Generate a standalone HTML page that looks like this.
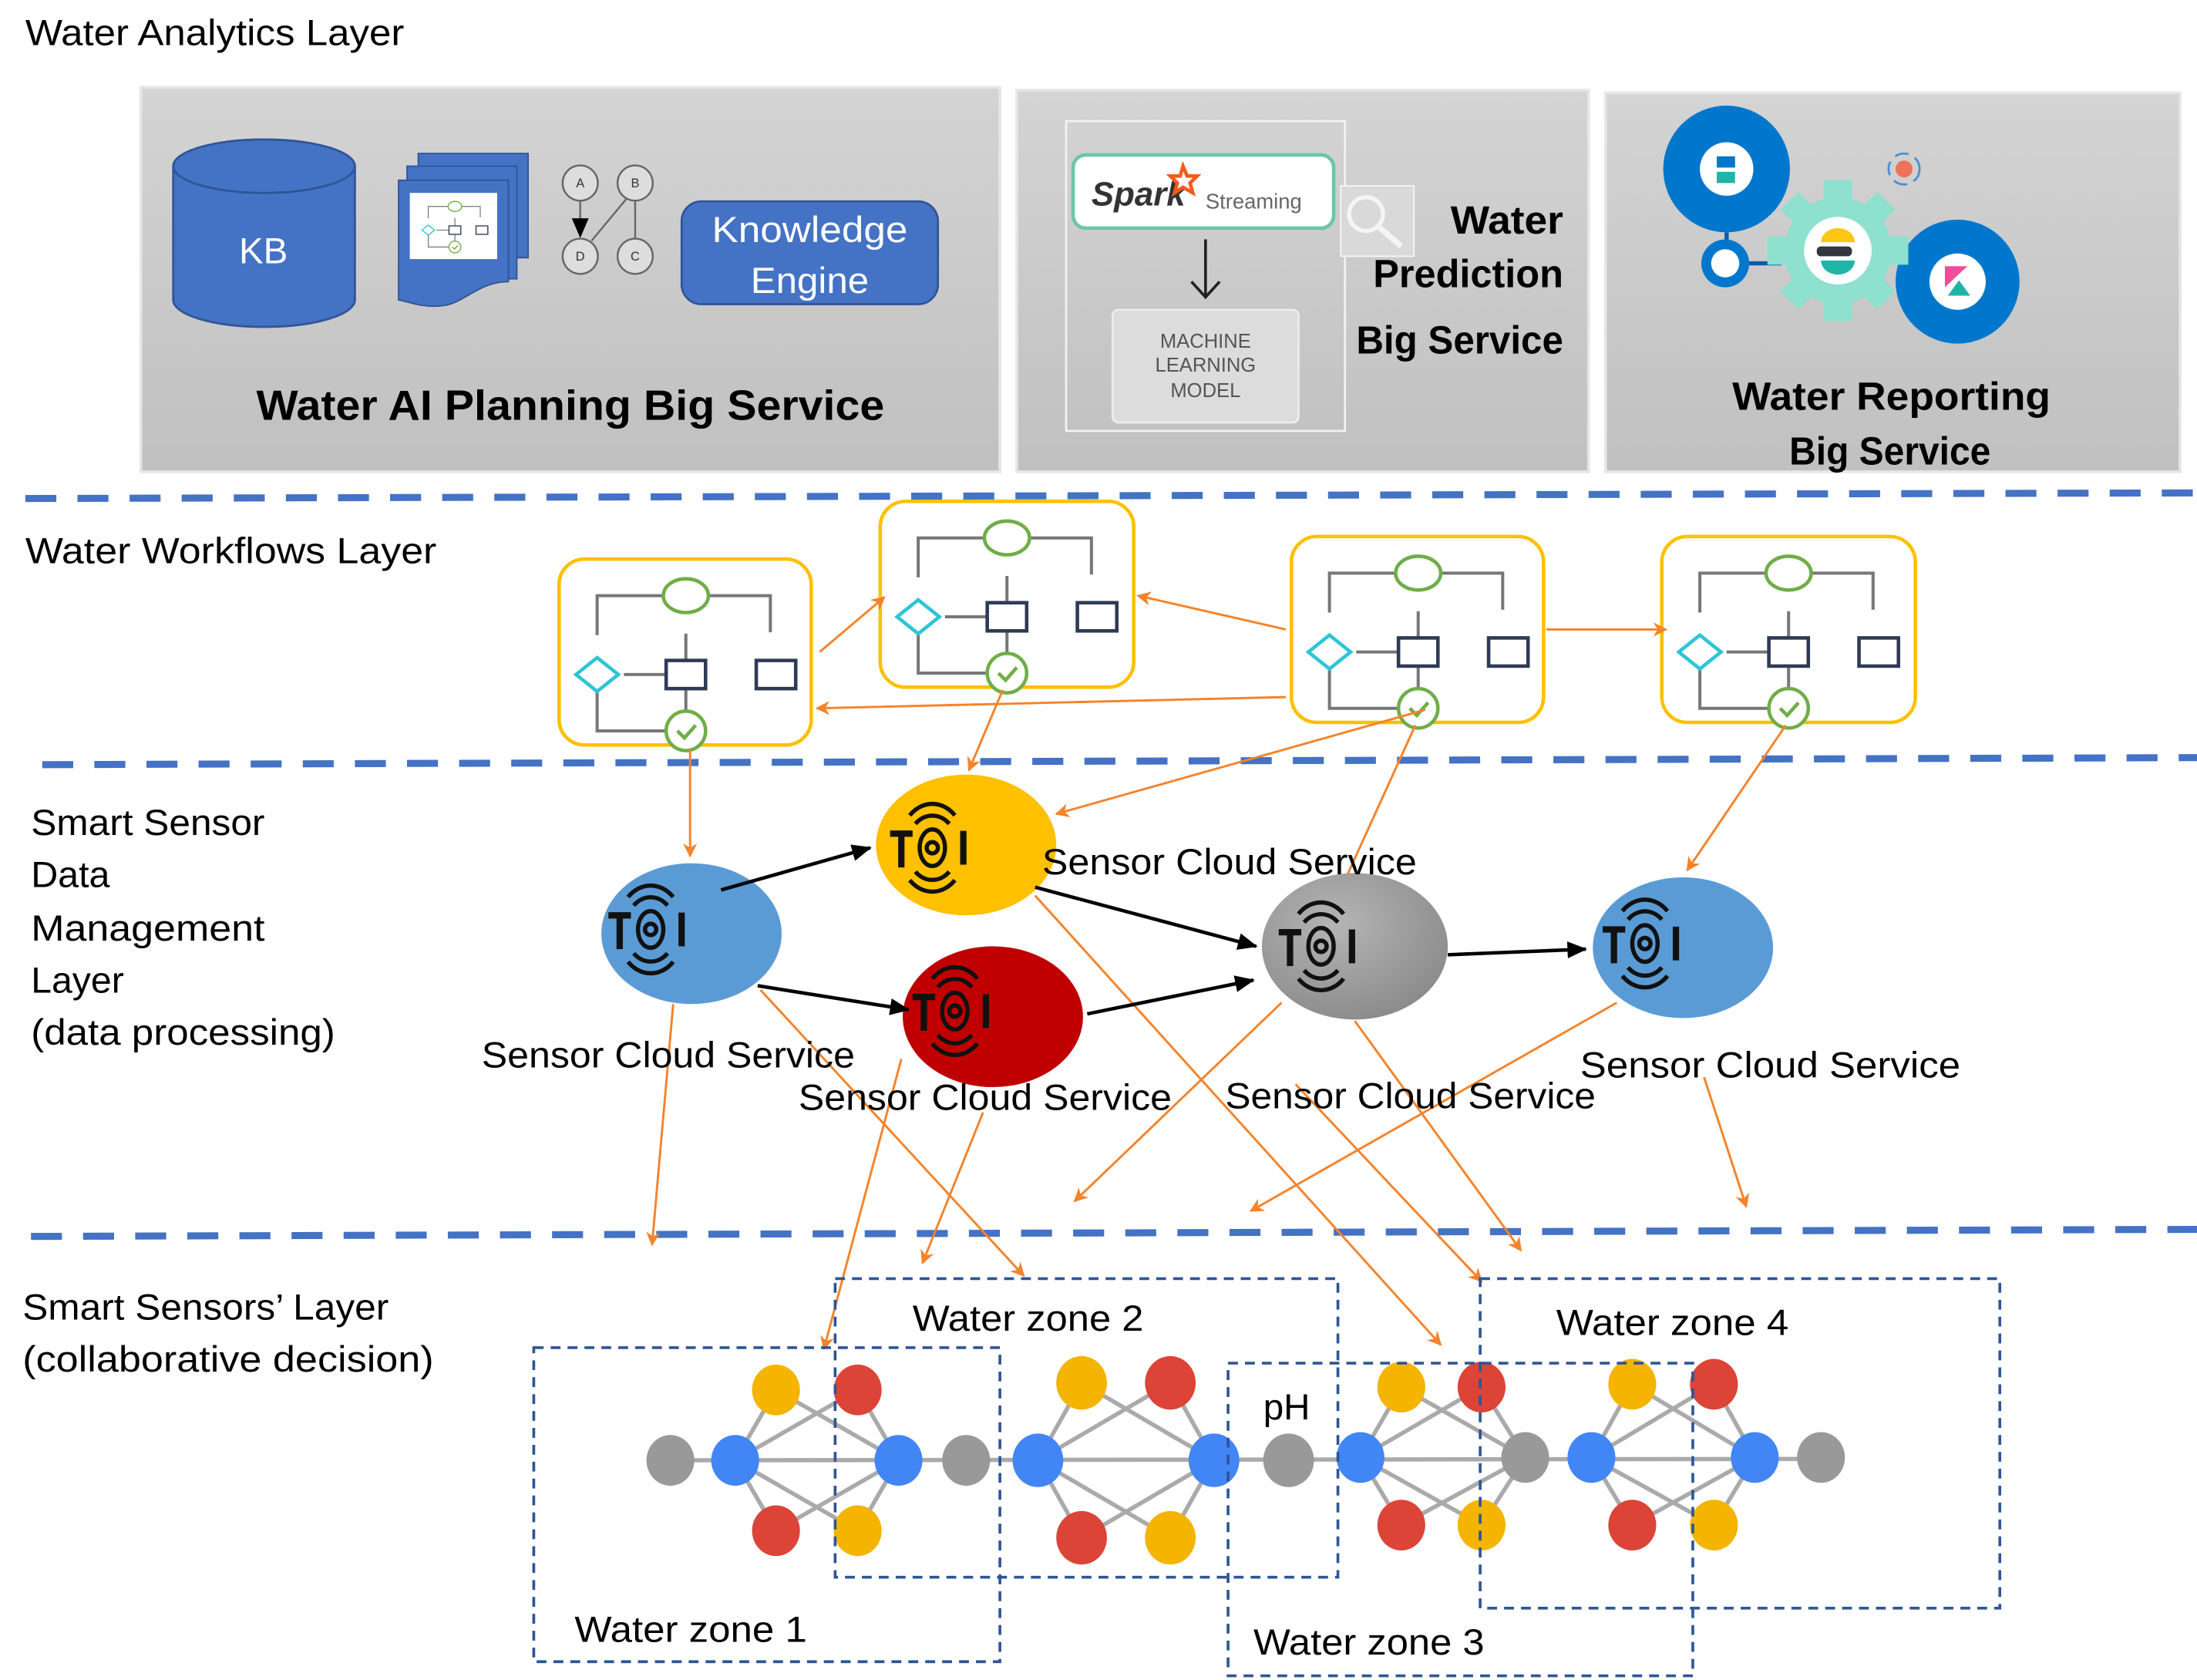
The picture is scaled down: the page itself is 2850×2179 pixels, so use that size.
<!DOCTYPE html>
<html><head><meta charset="utf-8"><style>
html,body{margin:0;padding:0;background:#fff;}
svg{display:block;}
text{font-family:"Liberation Sans",sans-serif;}
</style></head><body>
<svg width="2850" height="2179" viewBox="0 0 1560 1193" preserveAspectRatio="none" xmlns="http://www.w3.org/2000/svg">
<defs>
<linearGradient id="pg" x1="0" y1="0" x2="0" y2="1"><stop offset="0" stop-color="#d4d4d4"/><stop offset="1" stop-color="#c0c0c0"/></linearGradient>
<radialGradient id="gg" cx="0.4" cy="0.35" r="0.7"><stop offset="0" stop-color="#b5b5b5"/><stop offset="1" stop-color="#8a8a8a"/></radialGradient>
<marker id="oa" markerWidth="10" markerHeight="10" refX="9" refY="5" orient="auto" markerUnits="userSpaceOnUse"><path d="M0,0 L10,5 L0,10 L3,5 z" fill="#f4832a"/></marker>
<marker id="ba" markerWidth="14" markerHeight="12" refX="13" refY="6" orient="auto" markerUnits="userSpaceOnUse"><path d="M0,0 L14,6 L0,12 z" fill="#000"/></marker>
<g id="wf">
 <path d="M73,12 H27 V40 M107,12 H150 V38 M27,80 V108 H76 M46,68 H76 M90,39 V58 M90,78 V94" stroke="#777" stroke-width="2.2" fill="none"/>
 <ellipse cx="90" cy="12" rx="16" ry="12" fill="#fff" stroke="#70ad47" stroke-width="2.5"/>
 <path d="M27,56 L42,68 L27,80 L12,68 z" fill="#fff" stroke="#2ec4d6" stroke-width="2.5"/>
 <rect x="76" y="58" width="28" height="20" fill="#fff" stroke="#2f3b55" stroke-width="2.5"/>
 <rect x="140" y="58" width="28" height="20" fill="#fff" stroke="#2f3b55" stroke-width="2.5"/>
 <circle cx="90" cy="108" r="14" fill="#fff" stroke="#70ad47" stroke-width="2.5"/>
 <path d="M84,108 L89,113 L97,104" stroke="#70ad47" stroke-width="2.5" fill="none"/>
</g>
<g id="ic" fill="none" stroke="#111" stroke-width="3">
 <path d="M-30,-10 H-14 M-22,-10 V14" stroke-width="4.5"/>
 <circle cx="0" cy="0" r="4"/>
 <ellipse cx="0" cy="0" rx="9" ry="13"/>
 <path d="M-12,-17 A17,20 0 0 1 12,-17 M-16,-23 A22,26 0 0 1 16,-23 M-12,17 A17,20 0 0 0 12,17 M-16,23 A22,26 0 0 0 16,23"/>
 <path d="M22,-12 V12" stroke-width="4.5"/>
</g>
</defs>

<!-- Analytics layer -->
<text x="18" y="32" font-size="26" textLength="269" lengthAdjust="spacingAndGlyphs">Water Analytics Layer</text>
<rect x="100" y="62" width="610" height="273" fill="url(#pg)" stroke="#e6e6e6" stroke-width="2"/>
<rect x="722" y="64" width="406" height="271" fill="url(#pg)" stroke="#e6e6e6" stroke-width="2"/>
<rect x="1140" y="66" width="408" height="269" fill="url(#pg)" stroke="#e6e6e6" stroke-width="2"/>

<!-- KB cylinder -->
<path d="M123,118 V213 A64,19 0 0 0 252,213 V118" fill="#4472c4" stroke="#2f5597" stroke-width="1.5"/>
<ellipse cx="187.5" cy="118" rx="64.5" ry="19" fill="#4472c4" stroke="#2f5597" stroke-width="1.5"/>
<text x="187" y="187" font-size="26" fill="#fff" text-anchor="middle">KB</text>
<!-- docs -->
<rect x="297" y="109" width="78" height="74" fill="#4472c4" stroke="#2f5597"/>
<rect x="289" y="118" width="78" height="80" fill="#4472c4" stroke="#2f5597"/>
<path d="M283,128 H361 V200 C340,200 330,215 315,217 C300,219 290,214 283,213 z" fill="#4472c4" stroke="#2f5597"/>
<rect x="291" y="137" width="62" height="47" fill="#fff"/>
<g transform="translate(296,143) scale(0.3)"><use href="#wf"/></g>
<!-- ABCD graph -->
<g stroke="#666" stroke-width="1.3" fill="#ddd">
<line x1="412" y1="143" x2="412" y2="168" marker-end="url(#ba)"/>
<circle cx="412" cy="130" r="12.5"/><circle cx="451" cy="130" r="12.5"/><circle cx="412" cy="182" r="12.5"/><circle cx="451" cy="182" r="12.5"/>
<line x1="451" y1="143" x2="451" y2="169"/><line x1="445" y1="141" x2="420" y2="171"/>
</g>
<g font-size="9" text-anchor="middle" fill="#333"><text x="412" y="133">A</text><text x="451" y="133">B</text><text x="412" y="185">D</text><text x="451" y="185">C</text></g>
<!-- Knowledge Engine -->
<rect x="484" y="143" width="182" height="73" rx="14" fill="#4472c4" stroke="#2f5597" stroke-width="1.5"/>
<text x="575" y="172" font-size="26" fill="#fff" text-anchor="middle" textLength="139" lengthAdjust="spacingAndGlyphs">Knowledge</text>
<text x="575" y="208" font-size="26" fill="#fff" text-anchor="middle" textLength="84" lengthAdjust="spacingAndGlyphs">Engine</text>
<text x="405" y="298" font-size="30" font-weight="bold" text-anchor="middle" textLength="446" lengthAdjust="spacingAndGlyphs">Water AI Planning Big Service</text>

<!-- Panel 2 -->
<rect x="757" y="86" width="198" height="220" fill="none" stroke="#f2f2f2" stroke-width="1.5"/>
<rect x="762" y="110" width="185" height="52" rx="9" fill="#fff" stroke="#6cc5a8" stroke-width="2.5"/>
<text x="775" y="146" font-size="24" font-style="italic" font-weight="bold" fill="#333">Spark</text>
<path d="M840,118 l3,7 7,0 -5,5 2,7 -7,-4 -6,4 2,-7 -5,-5 7,0z" fill="none" stroke="#f25a1d" stroke-width="2.5"/>
<text x="856" y="148" font-size="15" fill="#666">Streaming</text>
<line x1="856" y1="170" x2="856" y2="210" stroke="#222" stroke-width="2"/>
<path d="M846,200 L856,211 L866,200" stroke="#222" stroke-width="2" fill="none"/>
<rect x="790" y="220" width="132" height="80" rx="4" fill="#dcdcdc" stroke="#ececec" stroke-width="1.5"/>
<g font-size="14" fill="#555" text-anchor="middle"><text x="856" y="247">MACHINE</text><text x="856" y="264">LEARNING</text><text x="856" y="282">MODEL</text></g>
<rect x="952" y="132" width="52" height="50" fill="#d9d9d9" stroke="#f5f5f5"/>
<circle cx="970" cy="152" r="12" fill="none" stroke="#f4f4f4" stroke-width="3"/>
<line x1="979" y1="161" x2="995" y2="175" stroke="#f4f4f4" stroke-width="4"/>
<g font-size="28" font-weight="bold" text-anchor="end"><text x="1110" y="166" textLength="80" lengthAdjust="spacingAndGlyphs">Water</text><text x="1110" y="204" textLength="135" lengthAdjust="spacingAndGlyphs">Prediction</text><text x="1110" y="251" textLength="147" lengthAdjust="spacingAndGlyphs">Big Service</text></g>

<!-- Panel 3 -->
<circle cx="1226" cy="120" r="45" fill="#0077cc"/><circle cx="1226" cy="120" r="19" fill="#fff"/>
<rect x="1219" y="111" width="13" height="8" fill="#0077cc"/><rect x="1219" y="122" width="13" height="8" fill="#1fb5a6"/>
<line x1="1226" y1="165" x2="1226" y2="175" stroke="#0b5ca8" stroke-width="3"/>
<circle cx="1225" cy="187" r="17" fill="#0077cc"/><circle cx="1225" cy="187" r="10" fill="#fff"/>
<line x1="1242" y1="187" x2="1265" y2="187" stroke="#0b5ca8" stroke-width="3"/>
<circle cx="1390" cy="200" r="44" fill="#0077cc"/><circle cx="1390" cy="200" r="20" fill="#fff"/>
<path d="M1381,189 H1397 L1381,204z" fill="#f04e98"/><path d="M1383,210 L1391,199 L1399,210z" fill="#1fb5a6"/>
<circle cx="1305" cy="178" r="38" fill="#8ee0cf"/>
<g fill="#8ee0cf"><rect x="1295" y="128" width="20" height="16"/><rect x="1295" y="212" width="20" height="16"/><rect x="1255" y="168" width="16" height="20"/><rect x="1339" y="168" width="16" height="20"/>
<rect x="1268" y="140" width="18" height="18" transform="rotate(45 1277 149)"/><rect x="1324" y="140" width="18" height="18" transform="rotate(45 1333 149)"/><rect x="1268" y="198" width="18" height="18" transform="rotate(45 1277 207)"/><rect x="1324" y="198" width="18" height="18" transform="rotate(45 1333 207)"/></g>
<circle cx="1305" cy="178" r="24" fill="#fff"/>
<path d="M1293,172 A12,10 0 0 1 1317,172z" fill="#fec514"/><rect x="1290" y="175" width="25" height="7" rx="3" fill="#343741"/><path d="M1293,185 A12,10 0 0 0 1317,185z" fill="#1fb5a6"/>
<circle cx="1352" cy="120" r="6" fill="#f0705a"/><circle cx="1352" cy="120" r="11" fill="none" stroke="#4a8fd0" stroke-width="1.5" stroke-dasharray="10 5"/>
<text x="1343" y="291" font-size="28" font-weight="bold" text-anchor="middle" textLength="226" lengthAdjust="spacingAndGlyphs">Water  Reporting</text>
<text x="1342" y="330" font-size="28" font-weight="bold" text-anchor="middle" textLength="143" lengthAdjust="spacingAndGlyphs">Big Service</text>

<!-- dashed layer lines -->
<g stroke="#4472c4" stroke-width="5" stroke-dasharray="22 15" fill="none">
<line x1="18" y1="354" x2="1560" y2="350"/>
<line x1="30" y1="543" x2="1560" y2="538"/>
<line x1="22" y1="878" x2="1560" y2="873"/>
</g>

<!-- Workflows layer -->
<text x="18" y="400" font-size="26" textLength="292" lengthAdjust="spacingAndGlyphs">Water Workflows Layer</text>
<g fill="#fff" stroke="#ffc000" stroke-width="2.5">
<rect x="397" y="397" width="179" height="132" rx="18"/>
<rect x="625" y="356" width="180" height="132" rx="18"/>
<rect x="917" y="381" width="179" height="132" rx="18"/>
<rect x="1180" y="381" width="180" height="132" rx="18"/>
</g>
<g transform="translate(397,411)"><use href="#wf"/></g>
<g transform="translate(625,370)"><use href="#wf"/></g>
<g transform="translate(917,395)"><use href="#wf"/></g>
<g transform="translate(1180,395)"><use href="#wf"/></g>

<!-- Sensor layer labels -->
<g font-size="26"><text x="22" y="593" textLength="166" lengthAdjust="spacingAndGlyphs">Smart Sensor</text><text x="22" y="630" textLength="56" lengthAdjust="spacingAndGlyphs">Data</text><text x="22" y="668" textLength="166" lengthAdjust="spacingAndGlyphs">Management</text><text x="22" y="705" textLength="66" lengthAdjust="spacingAndGlyphs">Layer</text><text x="22" y="742" textLength="216" lengthAdjust="spacingAndGlyphs">(data processing)</text></g>

<!-- orange connectors -->
<g stroke="#f4832a" stroke-width="1.6" fill="none" marker-end="url(#oa)">
<line x1="582" y1="463" x2="628" y2="424"/>
<line x1="913" y1="447" x2="808" y2="423"/>
<line x1="913" y1="495" x2="580" y2="503"/>
<line x1="1098" y1="447" x2="1183" y2="447"/>
<line x1="490" y1="532" x2="490" y2="608"/>
<line x1="712" y1="490" x2="688" y2="547"/>
<line x1="1012" y1="504" x2="750" y2="578"/>
<line x1="1268" y1="515" x2="1198" y2="618"/>
<line x1="478" y1="713" x2="463" y2="884"/>
<line x1="540" y1="703" x2="727" y2="906"/>
<line x1="735" y1="636" x2="1023" y2="955"/>
<line x1="640" y1="752" x2="585" y2="958"/>
<line x1="698" y1="790" x2="655" y2="897"/>
<line x1="910" y1="712" x2="763" y2="853"/>
<line x1="962" y1="725" x2="1080" y2="888"/>
<line x1="1148" y1="712" x2="888" y2="860"/>
<line x1="1210" y1="765" x2="1240" y2="857"/>
<line x1="920" y1="770" x2="1052" y2="910"/>
</g>
<line x1="1005" y1="515" x2="955" y2="625" stroke="#f4832a" stroke-width="1.6"/>

<!-- sensor ellipses -->
<ellipse cx="491" cy="663" rx="64" ry="50" fill="#5b9bd5"/>
<ellipse cx="686" cy="600" rx="64" ry="50" fill="#ffc000"/>
<ellipse cx="705" cy="722" rx="64" ry="50" fill="#c00000"/>
<ellipse cx="962" cy="672" rx="66" ry="52" fill="url(#gg)"/>
<ellipse cx="1195" cy="673" rx="64" ry="50" fill="#5b9bd5"/>
<use href="#ic" transform="translate(462,660)"/>
<use href="#ic" transform="translate(662,602)"/>
<use href="#ic" transform="translate(678,718)"/>
<use href="#ic" transform="translate(938,672)"/>
<use href="#ic" transform="translate(1168,670)"/>

<!-- black arrows -->
<g stroke="#000" stroke-width="2.5" marker-end="url(#ba)">
<line x1="512" y1="632" x2="618" y2="602"/>
<line x1="538" y1="700" x2="645" y2="717"/>
<line x1="772" y1="720" x2="890" y2="696"/>
<line x1="735" y1="630" x2="892" y2="672"/>
<line x1="1028" y1="678" x2="1126" y2="674"/>
</g>

<g font-size="26">
<text x="740" y="621" textLength="266" lengthAdjust="spacingAndGlyphs">Sensor Cloud Service</text>
<text x="342" y="758" textLength="265" lengthAdjust="spacingAndGlyphs">Sensor Cloud Service</text>
<text x="567" y="788" textLength="265" lengthAdjust="spacingAndGlyphs">Sensor Cloud Service</text>
<text x="870" y="787" textLength="263" lengthAdjust="spacingAndGlyphs">Sensor Cloud Service</text>
<text x="1122" y="765" textLength="270" lengthAdjust="spacingAndGlyphs">Sensor  Cloud Service</text>
</g>

<!-- Smart sensors layer -->
<g font-size="26"><text x="16" y="937" textLength="260" lengthAdjust="spacingAndGlyphs">Smart Sensors’ Layer</text><text x="16" y="974" textLength="292" lengthAdjust="spacingAndGlyphs">(collaborative decision)</text></g>

<!-- network edges -->
<g stroke="#aaa" stroke-width="3">
<line x1="476" y1="1037" x2="1293" y2="1036"/>
<path d="M522,1037 L551,987 M522,1037 L609,987 M522,1037 L551,1087 M522,1037 L609,1087 M638,1037 L551,987 M638,1037 L609,987 M638,1037 L551,1087 M638,1037 L609,1087"/>
<path d="M737,1037 L768,982 M737,1037 L831,982 M737,1037 L768,1092 M737,1037 L831,1092 M862,1037 L768,982 M862,1037 L831,982 M862,1037 L768,1092 M862,1037 L831,1092"/>
<path d="M966,1035 L995,985 M966,1035 L1052,985 M966,1035 L995,1083 M966,1035 L1052,1083 M1083,1035 L995,985 M1083,1035 L1052,985 M1083,1035 L995,1083 M1083,1035 L1052,1083"/>
<path d="M1130,1035 L1159,983 M1130,1035 L1217,983 M1130,1035 L1159,1083 M1130,1035 L1217,1083 M1246,1035 L1159,983 M1246,1035 L1217,983 M1246,1035 L1159,1083 M1246,1035 L1217,1083"/>
</g>
<g>
<ellipse cx="476" cy="1037" rx="17" ry="18" fill="#999"/>
<ellipse cx="522" cy="1037" rx="17" ry="18" fill="#4285f4"/>
<ellipse cx="551" cy="987" rx="17" ry="18" fill="#f4b400"/>
<ellipse cx="609" cy="987" rx="17" ry="18" fill="#db4437"/>
<ellipse cx="551" cy="1087" rx="17" ry="18" fill="#db4437"/>
<ellipse cx="609" cy="1087" rx="17" ry="18" fill="#f4b400"/>
<ellipse cx="638" cy="1037" rx="17" ry="18" fill="#4285f4"/>
<ellipse cx="686" cy="1037" rx="17" ry="18" fill="#999"/>
<ellipse cx="737" cy="1037" rx="18" ry="19" fill="#4285f4"/>
<ellipse cx="768" cy="982" rx="18" ry="19" fill="#f4b400"/>
<ellipse cx="831" cy="982" rx="18" ry="19" fill="#db4437"/>
<ellipse cx="768" cy="1092" rx="18" ry="19" fill="#db4437"/>
<ellipse cx="831" cy="1092" rx="18" ry="19" fill="#f4b400"/>
<ellipse cx="862" cy="1037" rx="18" ry="19" fill="#4285f4"/>
<ellipse cx="915" cy="1037" rx="18" ry="19" fill="#999"/>
<ellipse cx="966" cy="1035" rx="17" ry="18" fill="#4285f4"/>
<ellipse cx="995" cy="985" rx="17" ry="18" fill="#f4b400"/>
<ellipse cx="1052" cy="985" rx="17" ry="18" fill="#db4437"/>
<ellipse cx="995" cy="1083" rx="17" ry="18" fill="#db4437"/>
<ellipse cx="1052" cy="1083" rx="17" ry="18" fill="#f4b400"/>
<ellipse cx="1083" cy="1035" rx="17" ry="18" fill="#999"/>
<ellipse cx="1130" cy="1035" rx="17" ry="18" fill="#4285f4"/>
<ellipse cx="1159" cy="983" rx="17" ry="18" fill="#f4b400"/>
<ellipse cx="1217" cy="983" rx="17" ry="18" fill="#db4437"/>
<ellipse cx="1159" cy="1083" rx="17" ry="18" fill="#db4437"/>
<ellipse cx="1217" cy="1083" rx="17" ry="18" fill="#f4b400"/>
<ellipse cx="1246" cy="1035" rx="17" ry="18" fill="#4285f4"/>
<ellipse cx="1293" cy="1035" rx="17" ry="18" fill="#999"/>
</g>

<!-- zone boxes -->
<g fill="none" stroke="#2f5597" stroke-width="2" stroke-dasharray="7 5">
<rect x="379" y="957" width="331" height="223"/>
<rect x="593" y="908" width="357" height="212"/>
<rect x="872" y="968" width="330" height="222"/>
<rect x="1051" y="908" width="369" height="234"/>
</g>
<g font-size="26">
<text x="408" y="1166" textLength="165" lengthAdjust="spacingAndGlyphs">Water zone 1</text>
<text x="648" y="945" textLength="164" lengthAdjust="spacingAndGlyphs">Water zone 2</text>
<text x="890" y="1175" textLength="164" lengthAdjust="spacingAndGlyphs">Water zone 3</text>
<text x="1105" y="948" textLength="165" lengthAdjust="spacingAndGlyphs">Water zone 4</text>
<text x="897" y="1008">pH</text>
</g>
</svg>
</body></html>
